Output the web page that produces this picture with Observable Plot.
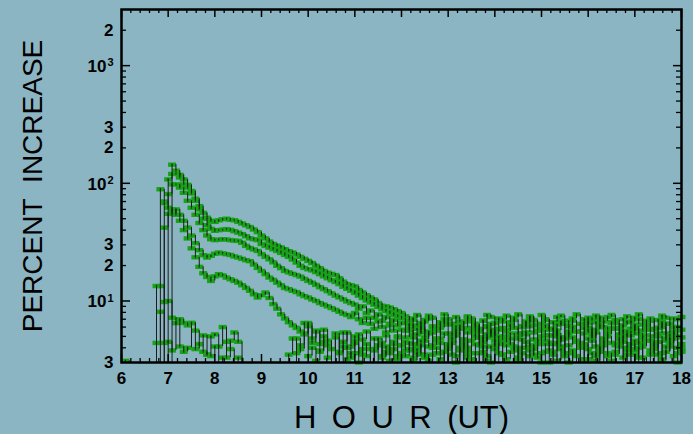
<!DOCTYPE html>
<html>
<head>
<meta charset="utf-8">
<script src="https://cdn.jsdelivr.net/npm/d3@7"></script>
<script src="https://cdn.jsdelivr.net/npm/@observablehq/plot@0.6"></script>
<style>
  html, body { margin: 0; padding: 0; background: #8bb5c2; }
</style>
</head>
<body>
<div id="chart"></div>
<script>
// 5-minute percent increases, 06:00 to 18:00 UT, one array per station
const startHour = 6;
const stepMinutes = 5;

const stationA = [
  1.2, 0.8, 1.5, 0.9, 1.1, 0.6, 1.3, 1.0, 1.8, 1.4, 0.7, 1.6, 2.1,
  144, 128, 118, 108, 97, 86, 74, 64, 56, 51, 48, 47,
  48.5, 49.5, 50, 49, 48.5, 47, 45.5, 44, 42.5, 40.5, 38.5, 36,
  34, 32, 30.5, 29.5, 28.5, 27.5, 26.5, 25.8, 24.8, 23.7, 22.8, 21.9,
  21, 19.9, 19, 18, 17.4, 17, 16.6, 15.6, 14.6, 13.9, 13.6, 13.3,
  12.4, 11.8, 11.2, 10.7, 10.3, 9.6, 9.1, 9.0, 8.8, 8.5, 8.2, 7.9,
  7.4, 6.8, 7.1, 7.6, 6.3, 6.9, 7.5, 7.2, 6.0, 6.6, 7.7, 7.0,
  6.4, 7.3, 6.7, 5.9, 7.4, 7.1, 6.2, 2.6, 6.8, 7.6, 7.3, 6.5,
  5.8, 6.9, 7.5, 6.6, 7.2, 7.7, 6.1, 6.7, 7.4, 6.9, 6.3, 7.6,
  7.0, 5.7, 6.6, 7.3, 7.5, 6.8, 6.2, 7.1, 7.7, 2.8, 6.4, 7.2,
  6.9, 7.5, 6.0, 6.7, 7.3, 7.6, 6.5, 5.9, 7.0, 7.4, 6.6, 7.2,
  7.7, 6.3, 6.8, 7.1, 5.8, 6.9, 7.5, 7.2, 6.4, 2.5, 7.0, 7.3
];
const stationB = [
  0.9, 1.4, 0.7, 1.2, 1.6, 0.8, 1.1, 1.9, 2.2, 1.3, 0.6, 1.5,
  108, 120, 121, 112, 98, 92, 82, 71, 60, 50, 44, 41,
  39.5, 40, 40.4, 40.8, 40.2, 39.2, 38.1, 37, 35.5, 34.1, 33.5, 32.9,
  30.5, 29.4, 28.4, 27.5, 26.6, 25.6, 24.6, 23.7, 22.5, 21.2, 19.9, 19.1,
  18.6, 18.2, 17.6, 16.9, 16.2, 15.6, 15, 14.5, 13.9, 13.2, 12.7, 12.2,
  11.7, 11.1, 10.6, 10.1, 9.7, 9.3, 8.9, 8.5, 8.2, 7.9, 7.6, 7.4,
  7.1,
  6.5, 5.8, 6.9, 6.2, 5.4, 6.7, 7.1, 6.0, 5.6, 6.4, 7.0, 6.3,
  5.2, 6.1, 2.4, 6.6, 7.2, 5.9, 6.4, 5.5, 6.8, 6.1, 5.0, 6.5,
  7.1, 6.7, 5.7, 6.2, 6.9, 5.3, 6.0, 6.6, 7.3, 6.2, 5.6, 6.4,
  6.9, 5.8, 5.1, 6.3, 6.7, 2.7, 6.1, 6.8, 5.5, 6.4, 7.0, 5.9,
  5.4, 6.6, 7.2, 6.0, 5.7, 6.5, 6.9, 5.2, 6.2, 6.7, 5.8, 6.3,
  7.0, 5.6, 6.1, 6.8, 2.3, 5.9, 6.6, 5.3, 6.4, 7.1, 6.0, 5.7
];
const stationC = [
  1.1, 0.5, 1.3, 1.7, 0.9, 1.2, 0.4, 1.6, 1.0, 2.0, 1.4,
  68, 81, 98, 98, 92, 83, 71, 62, 54, 46, 40, 36,
  33.5, 32.9, 33.2, 33.5, 33.3, 32.9, 32.6, 32.4, 31.2, 29.4, 28.2, 27.4,
  26.6, 25, 23.7, 22.6, 21.3, 19.9, 19, 18, 17.5, 17, 16.6, 16.1,
  15.4, 14.8, 14.3, 13.7, 13.1, 12.6, 12.1, 11.6, 11.1, 10.7, 10.3, 9.9,
  9.6, 9.3, 8.6, 9.0, 7.9, 8.3, 7.2, 7.7, 6.8, 7.3, 6.4, 6.9,
  6.2, 6.5,
  5.6, 6.3, 5.1, 5.8, 6.5, 4.9, 5.5, 6.1, 4.6, 5.9, 6.6, 5.3,
  4.8, 5.7, 6.2, 2.5, 5.4, 6.7, 5.0, 5.8, 4.5, 6.0, 6.4, 5.2,
  5.7, 4.7, 5.5, 6.3, 5.9, 4.9, 5.3, 6.1, 6.8, 5.4, 4.6, 5.8,
  6.2, 5.1, 2.3, 5.6, 6.4, 4.8, 5.3, 6.0, 5.5, 4.4, 5.9, 6.5,
  5.0, 5.7, 6.2, 4.7, 5.4, 6.6, 5.8, 5.1, 4.5, 2.6, 5.5, 6.1,
  5.3, 4.8, 6.3, 5.7, 5.0, 5.9, 6.4, 4.6, 5.2, 6.0, 5.6, 4.9
];
const stationD = [
  0.7, 1.3, 1.0, 0.5, 1.6, 1.2, 0.9, 1.5, 0.8, 1.9,
  89, 70, 62, 55, 60, 54, 48, 42, 36, 31, 27, 24.5,
  23.4, 24.2, 25.2, 25.8, 25.4, 25, 24.6, 23.9, 23.4, 22.8, 22.2, 21.8,
  20.4, 19.1, 18, 16.9, 15.8, 15.1, 14.3, 13.6, 12.9, 12.6, 12.2, 11.9,
  11.4, 11.0, 10.7, 10.3, 10.0, 9.6, 9.3, 9.0, 8.7, 8.4, 8.1, 7.8,
  7.6, 7.3, 7.9, 7.0, 6.5, 7.2, 6.4, 5.8, 6.7, 6.0, 5.4, 6.2,
  5.6, 4.9, 5.7,
  4.9, 5.6, 4.3, 5.2, 5.9, 4.6, 4.1, 5.4, 6.0, 4.8, 5.3, 2.4,
  4.4, 5.1, 5.8, 4.7, 4.0, 5.5, 6.2, 4.9, 4.5, 5.2, 5.7, 4.2,
  5.0, 5.9, 4.6, 5.3, 3.9, 4.8, 2.6, 5.4, 6.1, 4.7, 4.3, 5.6,
  5.1, 4.4, 5.8, 5.0, 4.1, 4.9, 5.5, 6.0, 4.6, 4.2, 5.3, 5.7,
  4.8, 5.4, 2.2, 4.5, 5.2, 5.9, 4.3, 4.9, 5.6, 4.0, 5.1, 5.8,
  4.4, 5.0, 5.7, 4.6, 4.1, 5.3, 6.0, 4.8, 4.4, 5.5, 5.0, 4.3
];
const stationE = [
  1.4, 0.6, 1.1, 0.8, 1.7, 1.0, 1.3, 0.5, 1.2, 1.8, 2.4,
  42, 55, 60, 54, 48, 40, 34, 28, 23.5, 19.5, 17.2, 16,
  14.8, 16.2, 16.9, 16.5, 15.8, 15.3, 14.8, 14.3, 13.6, 12.9, 12.2, 11.4,
  10.7, 11.2, 11.8, 10.6, 9.4, 8.6, 7.7, 7.1, 6.6, 6.2, 5.9, 5.5,
  5.2, 6.1, 4.8, 5.5, 4.3, 5.7, 4.6, 3.9, 5.3, 2.8, 4.5, 5.4,
  4.1, 5.0, 3.6, 4.7, 5.5, 3.9, 4.8, 2.6, 4.4, 5.1, 3.8, 4.3,
  5.0, 4.2,
  4.5, 3.8, 4.9, 4.2, 3.5, 4.7, 5.3, 4.0, 3.6, 4.4, 2.5, 4.1,
  4.8, 5.4, 3.9, 4.3, 3.4, 4.6, 5.1, 4.2, 3.7, 4.9, 5.5, 4.0,
  3.6, 4.4, 5.0, 4.3, 2.7, 3.9, 4.7, 5.2, 4.1, 3.5, 4.5, 5.0,
  4.6, 3.8, 4.3, 5.3, 4.7, 3.6, 4.2, 4.9, 3.4, 2.4, 4.0, 4.8,
  5.4, 4.1, 3.7, 4.5, 5.0, 4.4, 3.5, 4.2, 4.9, 5.2, 3.9, 4.6,
  2.6, 4.3, 5.1, 3.8, 4.4, 5.0, 3.6, 4.1, 4.8, 5.3, 4.0, 3.7
];
const stationF = [
  1.2, 3.1, 0.8, 1.3, 0.6, 1.0, 1.5, 0.9, 1.7,
  13.4, 13.4, 9.8, 10, 7.2, 6.5, 7.0, 6.5, 6.2, 6.5, 5.6, 4.3,
  5.1, 3.5, 5.0, 5.2, 4.1, 6.0, 3.3, 4.6, 5.4, 4.5, 2.6, 2.2,
  1.8, 2.4, 1.5, 2.1, 2.7, 1.9, 2.3, 1.6, 2.5, 2.0, 2.8, 1.7,
  4.8, 3.9, 5.3, 6.5, 4.4, 5.6, 3.7, 5.0, 4.2, 2.1, 4.9, 3.6,
  5.4, 4.0, 3.3, 4.6, 5.2, 3.5, 4.3, 2.4, 3.9, 4.8, 3.4, 4.1,
  3.6, 4.5, 3.2, 4.2,
  3.8, 4.4, 3.3, 3.9, 4.6, 3.5, 3.1, 4.2, 4.8, 3.6, 2.3, 3.9,
  4.5, 3.4, 4.0, 4.7, 3.7, 3.2, 4.3, 4.9, 3.6, 3.1, 4.1, 4.6,
  2.5, 3.5, 4.2, 4.8, 3.8, 3.3, 4.0, 4.5, 3.4, 3.9, 4.7, 3.6,
  4.3, 3.0, 3.7, 4.4, 4.9, 3.5, 2.2, 3.8, 4.5, 4.1, 3.2, 3.9,
  4.6, 3.4, 4.0, 4.8, 3.6, 3.1, 4.2, 4.7, 2.6, 3.5, 4.3, 3.8,
  3.3, 4.1, 4.6, 3.5, 3.9, 4.5, 3.2, 3.7, 4.4, 4.8, 3.6, 4.0
];
const stationG = [
  0.8, 1.4, 0.5, 1.9, 1.1, 0.7, 1.6, 1.0, 0.6,
  4.4, 8.1, 4.4, 4.5, 3.8, 6.5, 4.1, 3.7, 4.0, 6.5, 3.9, 4.3,
  3.7, 3.5, 3.4, 4.1, 2.7, 3.3, 4.5, 3.9, 2.4, 3.3, 2.1, 1.6,
  2.3, 1.4, 2.0, 2.6, 1.8, 2.2, 1.5, 2.7, 1.9, 2.4, 3.5, 4.8,
  3.6, 4.2, 6.5, 3.4, 4.0, 3.1, 3.8, 4.5, 3.3, 2.9, 2.4, 3.7,
  4.1, 3.2, 3.6, 4.4, 3.0, 3.9, 3.4, 2.6, 3.8, 4.2, 3.3, 3.7,
  3.1, 3.9, 3.4, 3.6,
  3.4, 3.9, 3.1, 3.6, 4.2, 3.3, 2.4, 3.5, 4.0, 3.2, 3.7, 4.3,
  3.5, 3.0, 3.8, 4.4, 3.3, 2.8, 3.6, 2.6, 4.1, 3.4, 3.0, 3.9,
  4.3, 3.5, 3.2, 3.7, 4.1, 3.1, 3.6, 2.3, 3.8, 4.2, 3.3, 3.0,
  3.7, 4.4, 3.5, 3.1, 3.9, 3.4, 3.0, 3.6, 2.7, 4.0, 4.3, 3.2,
  3.6, 3.1, 3.8, 4.2, 3.4, 2.9, 3.7, 4.1, 3.3, 3.8, 2.5, 3.5,
  4.0, 3.3, 2.9, 3.6, 4.3, 3.5, 3.1, 3.7, 4.1, 3.4, 3.0, 3.8
];
const stations = [stationA, stationB, stationC, stationD, stationE, stationF, stationG];

// axis ticks and labels
const hourTicks = [6, 7, 8, 9, 10, 11, 12, 13, 14, 15, 16, 17, 18];
const hourMinorTicks = [
  6.2, 6.4, 6.6, 6.8, 7.2, 7.4, 7.6, 7.8, 8.2, 8.4, 8.6, 8.8, 9.2, 9.4, 9.6, 9.8,
  10.2, 10.4, 10.6, 10.8, 11.2, 11.4, 11.6, 11.8, 12.2, 12.4, 12.6, 12.8,
  13.2, 13.4, 13.6, 13.8, 14.2, 14.4, 14.6, 14.8, 15.2, 15.4, 15.6, 15.8,
  16.2, 16.4, 16.6, 16.8, 17.2, 17.4, 17.6, 17.8
];
const percentTicks = [3, 20, 30, 200, 300, 2000];
const percentLabels = ["3", "2", "3", "2", "3", "2"];
const decadeTicks = [10, 100, 1000];
const decadeExponents = ["1", "2", "3"];
const percentMinorTicks = [
  4, 5, 6, 7, 8, 9, 20, 30, 40, 50, 60, 70, 80, 90,
  200, 300, 400, 500, 600, 700, 800, 900, 2000
];
const percentFloor = 3;
const percentCeiling = 3000;

// one row per sample, with the previous sample for the step connectors
const samples = [];
stations.forEach((values, s) => {
  values.forEach((value, i) => {
    samples.push({
      station: s,
      hour: startHour + (i * stepMinutes) / 60,
      value,
      previous: i > 0 ? values[i - 1] : value
    });
  });
});
const visible = samples.filter(d => d.value >= percentFloor);
const connectors = samples.filter(
  d => Math.max(d.previous, percentFloor) !== Math.max(d.value, percentFloor)
);

const W = 693, H = 434;
const margin = {top: 9, right: 12, bottom: 72, left: 121};
const frameW = W - margin.left - margin.right;
const frameH = H - margin.top - margin.bottom;

// flat bar-shaped marker and its dark centre notch
const barSymbol = {draw(context) { context.rect(-4, -2.2, 8, 4.4); }};
const notchSymbol = {draw(context) { context.rect(-0.6, -1.2, 1.2, 2.4); }};

const labelOf = new Map(percentTicks.map((t, i) => [t, percentLabels[i]]));

const chart = Plot.plot({
  width: W,
  height: H,
  marginTop: margin.top,
  marginRight: margin.right,
  marginBottom: margin.bottom,
  marginLeft: margin.left,
  style: {
    background: "#8bb5c2",
    color: "black",
    fontFamily: "'Liberation Sans', Arial, sans-serif",
    fontSize: "17px",
    fontWeight: "bold"
  },
  x: {
    domain: [6, 18],
    ticks: hourTicks,
    tickFormat: d => String(d),
    tickSize: 0,
    tickPadding: 9,
    label: null
  },
  y: {
    type: "log",
    domain: [percentFloor, percentCeiling],
    ticks: percentTicks,
    tickFormat: d => labelOf.get(d),
    tickSize: 0,
    tickPadding: 8,
    label: null
  },
  marks: [
    Plot.dot(visible, {x: "hour", y: "value", symbol: barSymbol, fill: "#16a416", stroke: "none"}),
    Plot.dot(visible, {x: "hour", y: "value", symbol: notchSymbol, fill: "#1f4f25", stroke: "none"}),
    Plot.ruleX(connectors, {
      x: "hour",
      y1: d => Math.max(d.previous, percentFloor),
      y2: d => Math.max(d.value, percentFloor),
      stroke: "#1c1c1c",
      strokeWidth: 1
    }),
    // inward ticks on all four sides
    Plot.tickY(decadeTicks, {y: d => d, insetRight: frameW - 9, stroke: "black", strokeWidth: 1.5}),
    Plot.tickY(percentMinorTicks, {y: d => d, insetRight: frameW - 5, stroke: "black", strokeWidth: 1.3}),
    Plot.tickY(decadeTicks, {y: d => d, insetLeft: frameW - 8, stroke: "black", strokeWidth: 1.5}),
    Plot.tickY(percentMinorTicks, {y: d => d, insetLeft: frameW - 5, stroke: "black", strokeWidth: 1.3}),
    Plot.tickX(hourTicks, {x: d => d, insetBottom: frameH - 8, stroke: "black", strokeWidth: 1.5}),
    Plot.tickX(hourMinorTicks, {x: d => d, insetBottom: frameH - 4, stroke: "black", strokeWidth: 1.3}),
    Plot.tickX(hourTicks, {x: d => d, insetTop: frameH - 8, stroke: "black", strokeWidth: 1.5}),
    Plot.tickX(hourMinorTicks, {x: d => d, insetTop: frameH - 4, stroke: "black", strokeWidth: 1.3}),
    Plot.frame({stroke: "black", strokeWidth: 2.5}),
    // decade labels: "10" with a raised exponent
    Plot.text(decadeTicks, {
      y: d => d, text: () => "10", frameAnchor: "left", dx: -15, dy: 1,
      textAnchor: "end", lineAnchor: "middle", fontSize: 17, fontWeight: "bold", fill: "black"
    }),
    Plot.text(decadeTicks, {
      y: d => d, text: (d, i) => decadeExponents[i], frameAnchor: "left", dx: -8, dy: -3,
      textAnchor: "end", lineAnchor: "middle", fontSize: 11, fontWeight: "bold", fill: "black"
    }),
    Plot.text(["PERCENT\u00a0\u00a0INCREASE"], {
      frameAnchor: "left", dx: -88, rotate: -90,
      textAnchor: "middle", lineAnchor: "middle",
      fontSize: 28, fontWeight: "normal", fill: "black"
    }),
    Plot.text(["H\u2002O\u2002U\u2002R\u2002(UT)"], {
      frameAnchor: "bottom", dy: 56,
      textAnchor: "middle", lineAnchor: "middle",
      fontSize: 31, fontWeight: "normal", fill: "black"
    })
  ]
});

document.getElementById("chart").appendChild(chart);
</script>
</body>
</html>
